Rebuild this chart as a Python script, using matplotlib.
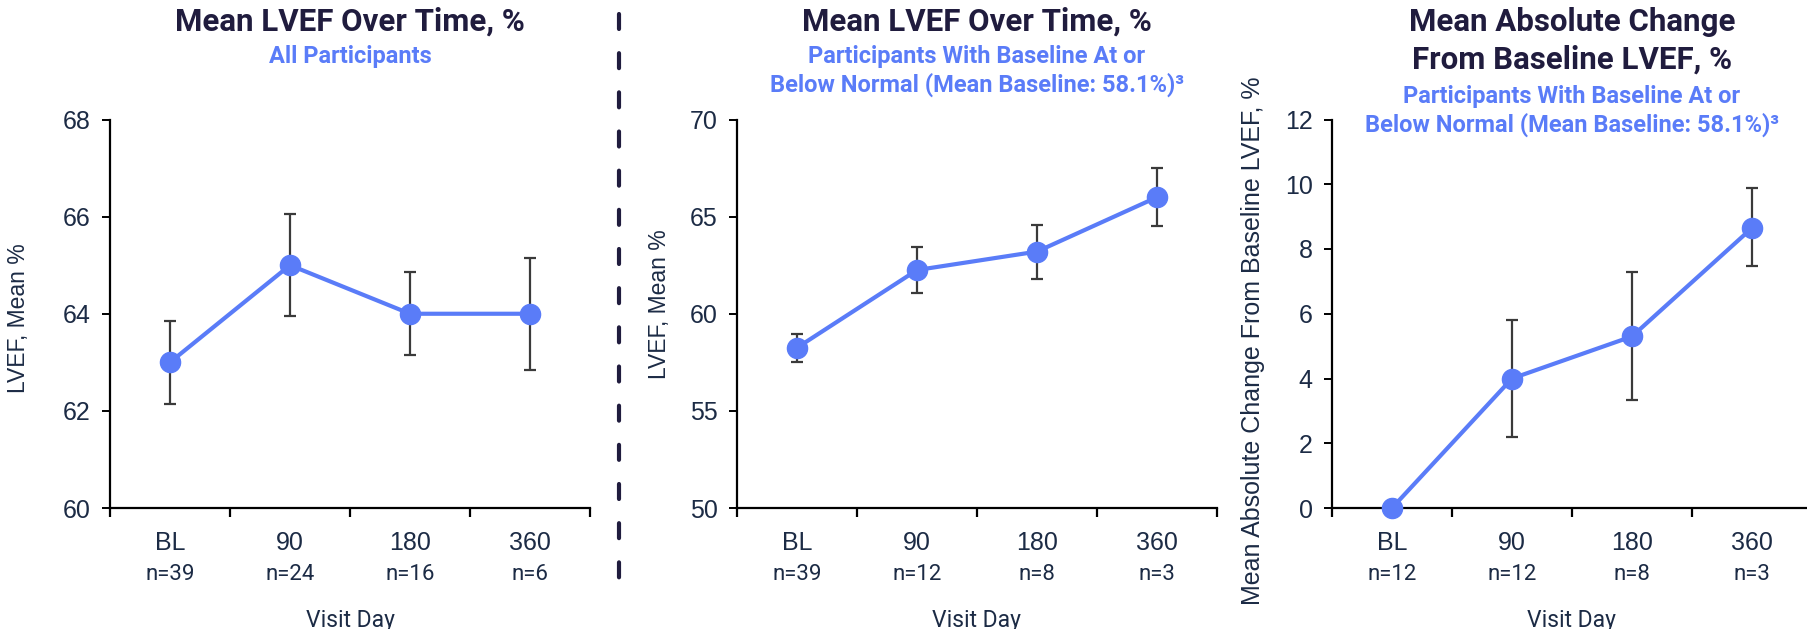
import numpy as np
import matplotlib
matplotlib.use("Agg")
import matplotlib.pyplot as plt
from matplotlib.lines import Line2D

# данные
visits = ["BL", "90", "180", "360"]

n_all = [39, 24, 16, 6]
mean_all = [63.0, 65.0, 64.0, 64.0]
low_all = [62.15, 63.95, 63.15, 62.85]
high_all = [63.85, 66.05, 64.85, 65.15]

n_below = [39, 12, 8, 3]
mean_below = [58.25, 62.25, 63.2, 66.0]
low_below = [57.5, 61.05, 61.8, 64.5]
high_below = [58.95, 63.45, 64.55, 67.5]

n_change = [12, 12, 8, 3]
mean_change = [0.0, 4.0, 5.3, 8.65]
low_change = [0.0, 2.2, 3.35, 7.47]
high_change = [0.0, 5.8, 7.28, 9.87]

navy = "#201c3e"
blue = "#5a7cf8"
text_col = "#1c2b45"

plt.rcParams['font.family'] = ['Liberation Sans', 'DejaVu Sans']

fig = plt.figure(figsize=(18.08, 6.29), dpi=100)
W, H = 1808, 629


def make_axes(left_px):
    return fig.add_axes([left_px / W, (H - 508) / H, 480 / W, 388.5 / H])


def draw_panel(ax, means, lows, highs, ns, ylim, yticks, ylabel, label_xy,
               label_size=16.5):
    x = np.arange(len(visits)) + 0.5
    means = np.array(means)
    yerr = [means - np.array(lows), np.array(highs) - means]
    ax.errorbar(x, means, yerr=yerr, fmt='none', ecolor='#3a3a3a',
                elinewidth=1.6, capsize=4.5, capthick=1.6, zorder=2)
    ax.plot(x, means, color=blue, lw=3, marker='o', markersize=14.5,
            zorder=3, clip_on=False)
    ax.set_xlim(0, len(visits))
    ax.set_ylim(*ylim)
    ax.set_yticks(yticks)
    ax.set_xticks(np.arange(len(visits) + 1))
    ax.set_xticklabels([])
    for s in ['top', 'right']:
        ax.spines[s].set_visible(False)
    for s in ['left', 'bottom']:
        ax.spines[s].set_linewidth(1.6)
        ax.spines[s].set_color('black')
    ax.tick_params(axis='y', length=6, width=1.4, labelsize=18,
                   labelcolor=text_col, pad=8)
    ax.tick_params(axis='x', length=6.5, width=1.6)
    ax.set_ylabel(ylabel, fontsize=label_size, color=text_col)
    ax.yaxis.set_label_coords(*label_xy)
    tr = ax.get_xaxis_transform()
    for xi, lab, n in zip(x, visits, ns):
        ax.text(xi, -0.09, lab, transform=tr, ha='center', va='center',
                fontsize=18, color=text_col)
        ax.text(xi, -0.172, f"n={n}", transform=tr, ha='center',
                va='center', fontsize=16, color=text_col, family='Roboto')
    ax.text(0.5, -0.29, "Visit Day", transform=ax.transAxes, ha='center',
            va='center', fontsize=16.5, color=text_col, family='Roboto')


ax1 = make_axes(110)
draw_panel(ax1, mean_all, low_all, high_all, n_all, (60, 68),
           [60, 62, 64, 66, 68], "LVEF, Mean %", (-0.166, 0.49))

ax2 = make_axes(737)
draw_panel(ax2, mean_below, low_below, high_below, n_below, (50, 70),
           [50, 55, 60, 65, 70], "LVEF, Mean %", (-0.137, 0.526))

ax3 = make_axes(1332)
draw_panel(ax3, mean_change, low_change, high_change, n_change, (0, 12),
           [0, 2, 4, 6, 8, 10, 12],
           "Mean Absolute Change From Baseline LVEF, %", (-0.14, 0.43),
           label_size=18)

# заголовки
title_kw = dict(ha='center', va='center', fontsize=22.5, fontweight='bold',
                color=navy, family='Roboto')
sub_kw = dict(ha='center', va='center', fontsize=17, fontweight='bold',
              color=blue, family='Roboto')

fig.text(350 / W, 1 - 22 / H, "Mean LVEF Over Time, %", **title_kw)
fig.text(350 / W, 1 - 57 / H, "All Participants", **sub_kw)

fig.text(977 / W, 1 - 22 / H, "Mean LVEF Over Time, %", **title_kw)
fig.text(977 / W, 1 - 57 / H, "Participants With Baseline At or", **sub_kw)
fig.text(977 / W, 1 - 85 / H, "Below Normal (Mean Baseline: 58.1%)³", **sub_kw)

fig.text(1572 / W, 1 - 22 / H, "Mean Absolute Change", **title_kw)
fig.text(1572 / W, 1 - 60 / H, "From Baseline LVEF, %", **title_kw)
fig.text(1572 / W, 1 - 97 / H, "Participants With Baseline At or", **sub_kw)
fig.text(1572 / W, 1 - 125 / H, "Below Normal (Mean Baseline: 58.1%)³", **sub_kw)

# пунктирный разделитель
sep = Line2D([619 / W, 619 / W], [1 - 14 / H, 1 - 598 / H],
             transform=fig.transFigure, color=navy, lw=3,
             linestyle=(0, (3.6, 5.8)), dash_capstyle='round')
fig.add_artist(sep)

fig.savefig("out.png", dpi=100)
